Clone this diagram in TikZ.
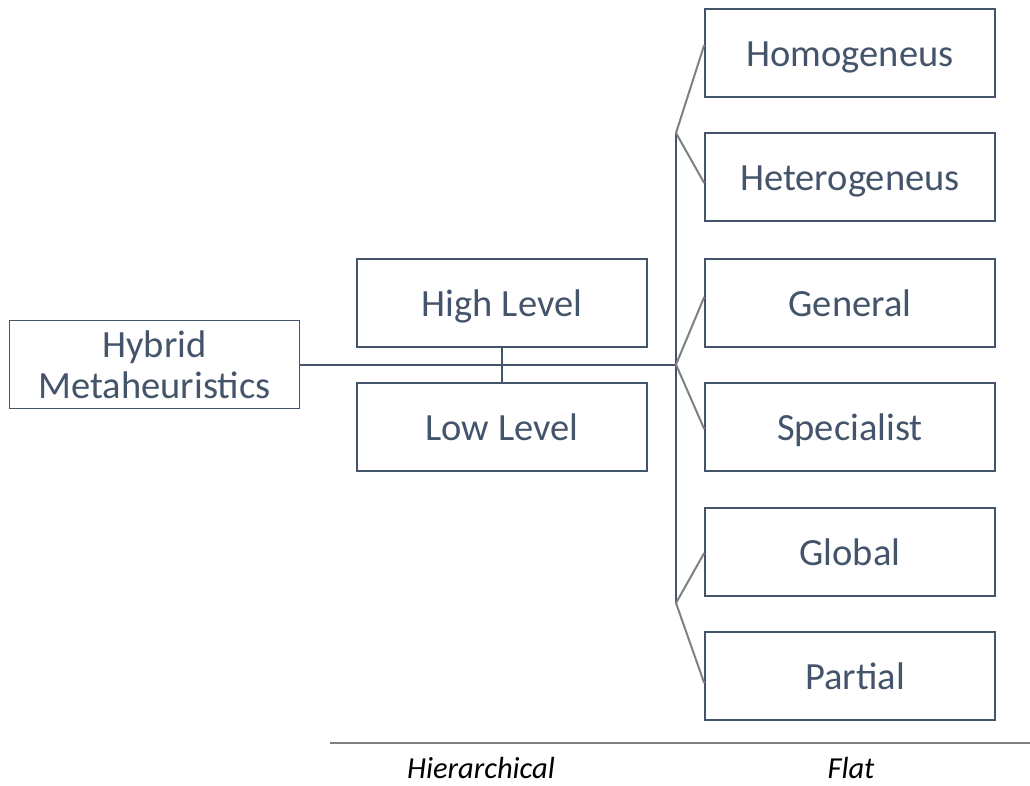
\documentclass[tikz,border=0pt]{standalone}
\usepackage{fontspec}
\setmainfont{Carlito}
\usetikzlibrary{calc}
\definecolor{slate}{HTML}{44546A}
\definecolor{graybr}{HTML}{808080}
\tikzset{
  boxnode/.style={draw=slate, line width=1.6pt, minimum width=290pt, minimum height=88pt,
    inner sep=0pt, text=slate, font=\fontsize{38.5}{41}\selectfont, text height=27pt, text depth=0pt},
  darkline/.style={draw=slate, line width=2pt},
  grayline/.style={draw=graybr, line width=2pt},
  caption/.style={text=black, font=\fontsize{30.5}{32}\selectfont\itshape, anchor=base, inner sep=0pt}
}
\begin{document}
\begin{tikzpicture}[x=1pt,y=-1pt]
\useasboundingbox (0,0) rectangle (1030,785);
\node[boxnode, align=center, text height=, text depth=] (hybrid) at (154.5,364.5) {Hybrid\\Metaheuristics};
\node[boxnode] (high) at (502,303) {High Level};
\node[boxnode] (low) at (502,427) {Low Level};
\node[boxnode] (homo) at (850,53) {Homogeneus};
\node[boxnode] (hetero) at (850,177) {Heterogeneus};
\node[boxnode] (general) at (850,303) {General};
\node[boxnode] (special) at (850,427) {Specialist};
\node[boxnode] (global) at (850,552) {Global};
\node[boxnode] (partial) at (850,676) {\hspace*{10pt}Partial};
\coordinate (j1) at (676,133);
\coordinate (j2) at (676,364.5);
\coordinate (j3) at (676,603);
\draw[darkline] (hybrid.east) -- (j2);
\draw[darkline] (high.south) -- (low.north);
\draw[darkline] (j1) -- (j3);
\draw[grayline] ([yshift=8pt]homo.west) -- (j1) -- ([yshift=-6pt]hetero.west);
\draw[grayline] ([yshift=6pt]general.west) -- (j2) -- ([yshift=-2pt]special.west);
\draw[grayline] ([yshift=-1pt]global.west) -- (j3) -- ([yshift=-7pt]partial.west);
\coordinate (sepl) at (330,743);
\coordinate (sepr) at (1030,743);
\draw[draw=graybr, line width=1.4pt] (sepl) -- (sepr);
\node[caption] (hier) at (481,778) {Hierarchical};
\node[caption] (flat) at (851,778) {Flat};
\end{tikzpicture}
\end{document}
